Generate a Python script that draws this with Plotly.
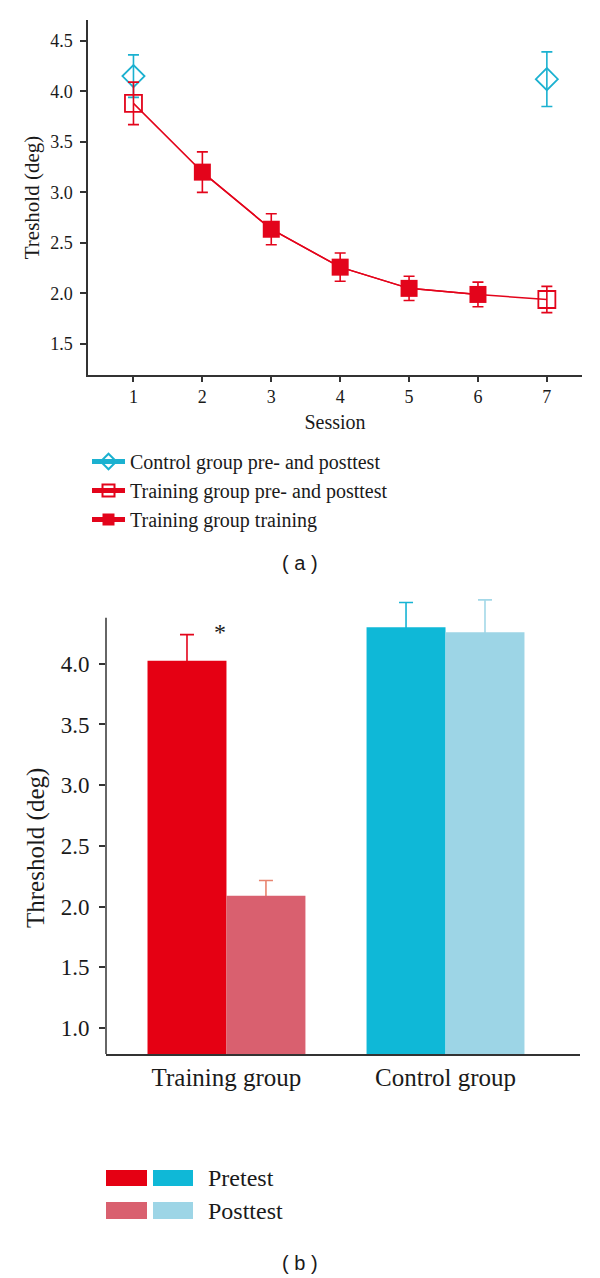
import plotly.graph_objects as go

# ---------------- data: panel (a) ----------------
sessions = [1, 2, 3, 4, 5, 6, 7]
control_sessions = [1, 7]
control_mean = [4.15, 4.12]
control_err = [0.21, 0.27]

prepost_sessions = [1, 7]
prepost_mean = [3.88, 1.94]
prepost_err = [0.21, 0.13]

training_sessions = [2, 3, 4, 5, 6]
training_mean = [3.20, 2.635, 2.26, 2.05, 1.99]
training_err = [0.20, 0.153, 0.14, 0.12, 0.122]

legend_a = ["Control group pre- and posttest",
            "Training group pre- and posttest",
            "Training group training"]

# ---------------- data: panel (b) ----------------
groups = ["Training group", "Control group"]
pre_mean = [4.025, 4.30]
pre_err = [0.215, 0.205]
post_mean = [2.088, 4.26]
post_err = [0.126, 0.266]

# page body has an 8px default margin -> figure is 592x1270 placed at (8,8)
OFF = 8
W, H = 600 - OFF, 1278 - OFF
SERIF = "Liberation Serif"
AX = "#333333"
TXT = "#1a1a1a"
RED = "#E3041B"
CYAN = "#1BB1D0"
BAR_RED = "#E50013"
BAR_PINK = "#D9606F"
BAR_CYAN = "#0FB8D7"
BAR_LBLUE = "#9DD5E6"


def px(x):
    return (x - OFF) / W


def py(y):
    return 1 - (y - OFF) / H


def sfont(size):
    return dict(family=SERIF, size=size, color=TXT)


fig = go.Figure()

# connecting line through pre-test, training sessions, post-test
line_x = [prepost_sessions[0]] + training_sessions + [prepost_sessions[1]]
line_y = [prepost_mean[0]] + training_mean + [prepost_mean[1]]
fig.add_trace(go.Scatter(x=line_x, y=line_y, mode="lines",
                         line=dict(color=RED, width=1.5),
                         showlegend=False, hoverinfo="skip",
                         xaxis="x", yaxis="y"))

# control group (diamonds) -- a gap point keeps the two markers unconnected
fig.add_trace(go.Scatter(
    x=[control_sessions[0], None, control_sessions[1]],
    y=[control_mean[0], None, control_mean[1]],
    mode="lines+markers", connectgaps=False,
    name=legend_a[0], legendgroup="a1",
    line=dict(color=CYAN, width=1.5),
    marker=dict(symbol="diamond-open", size=17, color=CYAN, line=dict(width=1.8)),
    error_y=dict(type="data", array=[control_err[0], None, control_err[1]],
                 color=CYAN, thickness=1.6, width=5.5),
    xaxis="x", yaxis="y"))

# training group pre/post (open squares)
fig.add_trace(go.Scatter(
    x=[prepost_sessions[0], None, prepost_sessions[1]],
    y=[prepost_mean[0], None, prepost_mean[1]],
    mode="lines+markers", connectgaps=False,
    name=legend_a[1], legendgroup="a2",
    line=dict(color=RED, width=1.5),
    marker=dict(symbol="square-open", size=17, color=RED, line=dict(width=1.8)),
    error_y=dict(type="data", array=[prepost_err[0], None, prepost_err[1]],
                 color=RED, thickness=1.6, width=5.5),
    xaxis="x", yaxis="y"))

# training sessions (filled squares)
fig.add_trace(go.Scatter(
    x=training_sessions, y=training_mean,
    mode="lines+markers",
    name=legend_a[2], legendgroup="a3",
    line=dict(color=RED, width=1.5),
    marker=dict(symbol="square", size=17, color=RED),
    error_y=dict(type="data", array=training_err,
                 color=RED, thickness=1.6, width=5.5),
    xaxis="x", yaxis="y"))

# ---------------- panel (b) bars ----------------
bar_specs = [
    (groups[0], pre_mean[0], pre_err[0], BAR_RED, RED, "pre"),
    (groups[0], post_mean[0], post_err[0], BAR_PINK, "#E8846F", "post"),
    (groups[1], pre_mean[1], pre_err[1], BAR_CYAN, "#16B4D4", "pre"),
    (groups[1], post_mean[1], post_err[1], BAR_LBLUE, "#A3D8E8", "post"),
]
# transparent carriers for the error bars first, then the coloured bars on top
for g, m, e, col, ecol, og in bar_specs:
    fig.add_trace(go.Bar(
        x=[g], y=[m], offsetgroup=og,
        marker=dict(color="rgba(0,0,0,0)", line=dict(width=0)),
        error_y=dict(type="data", array=[e], color=ecol, thickness=1.6, width=7),
        showlegend=False, hoverinfo="skip", xaxis="x2", yaxis="y2"))
for g, m, e, col, ecol, og in bar_specs:
    fig.add_trace(go.Bar(
        x=[g], y=[m], offsetgroup=og,
        marker=dict(color=col, line=dict(width=0)),
        showlegend=False, xaxis="x2", yaxis="y2"))

fig.update_layout(
    width=W, height=H,
    margin=dict(l=0, r=0, t=0, b=0),
    paper_bgcolor="white", plot_bgcolor="white",
    font=sfont(18),
    barmode="group", bargap=0.279, bargroupgap=0,
    showlegend=True,
    legend=dict(x=px(87), xanchor="left", y=py(442), yanchor="top",
                font=sfont(20), itemwidth=33,
                bgcolor="rgba(0,0,0,0)", traceorder="normal",
                tracegroupgap=0, itemsizing="constant"),
    xaxis=dict(domain=[px(88), px(582)], anchor="y",
               range=[0.34, 7.51], tickvals=sessions,
               showline=True, linecolor=AX, linewidth=1.5,
               ticks="outside", ticklen=5, tickwidth=1.5, tickcolor=AX,
               showgrid=False, zeroline=False,
               tickfont=sfont(18),
               title=dict(text="Session", font=sfont(20), standoff=9)),
    yaxis=dict(domain=[py(375), py(20)], anchor="x",
               range=[1.193, 4.705], dtick=0.5, tick0=1.5, tickformat=".1f",
               showline=True, linecolor=AX, linewidth=1.5,
               ticks="outside", ticklen=6, tickwidth=1.5, tickcolor=AX,
               ticklabelstandoff=4,
               showgrid=False, zeroline=False,
               tickfont=sfont(18),
               title=dict(text="Treshold (deg)", font=sfont(21), standoff=5)),
    xaxis2=dict(domain=[px(106), px(580)], anchor="y2",
                range=[-0.55, 1.614], type="category",
                showline=True, linecolor=AX, linewidth=1.5,
                ticks="", showgrid=False, zeroline=False,
                tickfont=sfont(25)),
    yaxis2=dict(domain=[py(1054), py(597)], anchor="x2",
                range=[0.785, 4.55], tickvals=[1.0, 1.5, 2.0, 2.5, 3.0, 3.5, 4.0],
                tickformat=".1f",
                showline=False,
                ticks="outside", ticklen=6, tickwidth=1.5, tickcolor=AX,
                ticklabelstandoff=5,
                showgrid=False, zeroline=False,
                tickfont=sfont(23)),
)

# y-axis title of panel (b)
fig.add_annotation(x=px(36), y=py(848), xref="paper", yref="paper",
                   text="Threshold (deg)", textangle=-90, showarrow=False,
                   xanchor="center", yanchor="middle", font=sfont(25))

# y-axis line of panel (b) stops at the top of the scale
fig.add_shape(type="line", xref="x2 domain", yref="y2",
              x0=0, x1=0, y0=0.785, y1=4.38,
              line=dict(color=AX, width=1.5))

# significance star
fig.add_annotation(x=groups[0], y=4.26, xref="x2", yref="y2", text="*",
                   showarrow=False, xshift=-6, font=sfont(24))

# panel labels
fig.add_annotation(x=px(300), y=py(563), xref="paper", yref="paper", text="( a )",
                   showarrow=False, yanchor="middle",
                   font=dict(family="Liberation Sans", size=20, color=TXT))
fig.add_annotation(x=px(300), y=py(1263), xref="paper", yref="paper", text="( b )",
                   showarrow=False, yanchor="middle",
                   font=dict(family="Liberation Sans", size=20, color=TXT))

# custom two-swatch legend for panel (b)
legend_b = [("Pretest", BAR_RED, BAR_CYAN, 1170, 1186),
            ("Posttest", BAR_PINK, BAR_LBLUE, 1202, 1219)]
for label, c1, c2, top, bot in legend_b:
    fig.add_shape(type="rect", xref="paper", yref="paper",
                  x0=px(106), x1=px(147), y0=py(bot), y1=py(top),
                  fillcolor=c1, line=dict(width=0))
    fig.add_shape(type="rect", xref="paper", yref="paper",
                  x0=px(153), x1=px(193), y0=py(bot), y1=py(top),
                  fillcolor=c2, line=dict(width=0))
    fig.add_annotation(x=px(206), y=py((top + bot) / 2), xref="paper", yref="paper",
                       text=label, showarrow=False, xanchor="left", yanchor="middle",
                       font=sfont(24))

fig.write_html("out.html")
